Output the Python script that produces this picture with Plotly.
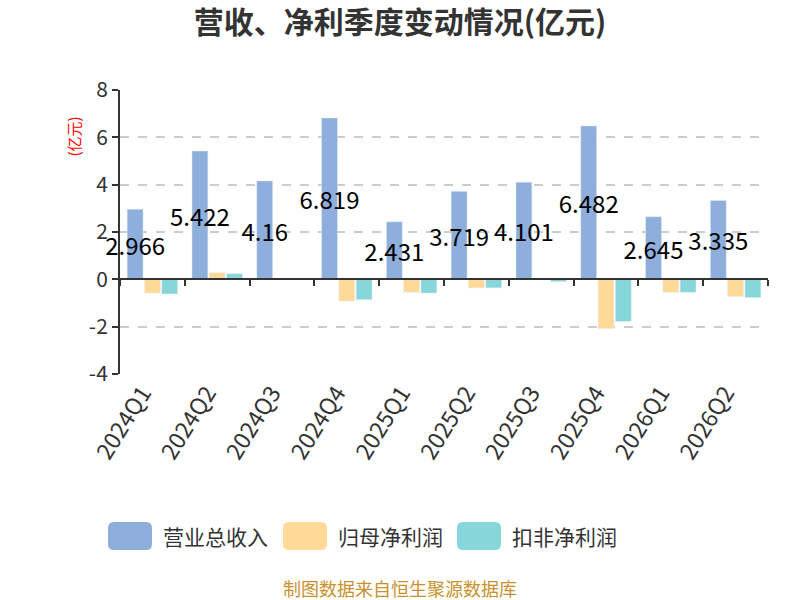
import plotly.graph_objects as go

quarters = ['2024Q1', '2024Q2', '2024Q3', '2024Q4', '2025Q1', '2025Q2', '2025Q3', '2025Q4', '2026Q1', '2026Q2']
revenue = [2.966, 5.422, 4.16, 6.819, 2.431, 3.719, 4.101, 6.482, 2.645, 3.335]
net_profit = [-0.58, 0.28, 0.03, -0.92, -0.55, -0.36, -0.02, -2.08, -0.55, -0.73]
deducted_profit = [-0.62, 0.24, 0.01, -0.86, -0.58, -0.36, -0.10, -1.78, -0.55, -0.77]
series_names = ['营业总收入', '归母净利润', '扣非净利润']
colors = ['#8eaedb', '#fed998', '#87d6da']
y_ticks = [-4, -2, 0, 2, 4, 6, 8]

font = 'Noto Sans CJK SC, Microsoft YaHei, sans-serif'

# plot area in pixels (800x600 page)
L, R, T, B = 120, 768, 90, 374
y_min, y_max = y_ticks[0], y_ticks[-1]

fig = go.Figure()
fig.add_trace(go.Bar(x=quarters, y=revenue, name=series_names[0], marker_color=colors[0],
                     text=[str(v) for v in revenue], textposition='inside', insidetextanchor='middle',
                     constraintext='none', textangle=0, cliponaxis=False,
                     textfont=dict(size=24, color='#000000', family=font)))
fig.add_trace(go.Bar(x=quarters, y=net_profit, name=series_names[1], marker_color=colors[1]))
fig.add_trace(go.Bar(x=quarters, y=deducted_profit, name=series_names[2], marker_color=colors[2]))
# dummy trace so the zero-line axis carries the category ticks
fig.add_trace(go.Scatter(x=quarters, y=[None] * len(quarters), xaxis='x2', showlegend=False, hoverinfo='skip'))

zero_pos = (0 - y_min) / (y_max - y_min)

fig.update_layout(
    width=800, height=600,
    paper_bgcolor='white', plot_bgcolor='white',
    margin=dict(l=L, r=800 - R, t=T, b=600 - B),
    barmode='group', bargap=0.2, bargroupgap=0.08,
    showlegend=False,
    font=dict(family=font, color='#333333'),
    title=dict(text='<b>营收、净利季度变动情况(亿元)</b>', x=0.5, xanchor='center', y=1 - 22 / 600, yanchor='middle',
               font=dict(size=30, color='#333333', family=font)),
    xaxis=dict(type='category', categoryorder='array', categoryarray=quarters, range=[-0.5, len(quarters) - 0.5],
               showline=False, ticks='', tickangle=-58, tickfont=dict(size=23, color='#333333'), showgrid=False,
               ticklabelshift=-10),
    xaxis2=dict(type='category', categoryorder='array', categoryarray=quarters, range=[-0.5, len(quarters) - 0.5],
                overlaying='x', anchor='free', position=zero_pos, showline=True, linecolor='#333333', linewidth=2,
                ticks='outside', tickson='boundaries', ticklen=6, tickwidth=2, tickcolor='#333333',
                showticklabels=False, showgrid=False),
    yaxis=dict(range=[y_min, y_max], tickmode='array', tickvals=y_ticks, ticktext=[str(t) for t in y_ticks],
               showline=True, linecolor='#333333', linewidth=2,
               ticks='outside', ticklen=6, tickwidth=2, tickcolor='#333333',
               tickfont=dict(size=21, color='#333333'),
               showgrid=True, gridcolor='#cccccc', griddash='dash', gridwidth=1.5, zeroline=False),
)

# y axis unit label
fig.add_annotation(text='(亿元)', xref='paper', yref='paper', x=(60 - L) / (R - L), y=(B - 115) / (B - T),
                   textangle=-90, showarrow=False, font=dict(size=15, color='#ff0000', family=font))

# legend drawn by hand: rounded swatches + labels
def px_x(p):
    return (p - L) / (R - L)

def px_y(p):
    return (B - p) / (B - T)

def rounded(x0, y0, x1, y1, r=6):
    pts = [(x0 + r, y0), (x1 - r, y0), (x1, y0 + r), (x1, y1 - r), (x1 - r, y1), (x0 + r, y1), (x0, y1 - r), (x0, y0 + r)]
    path = 'M {} {}'.format(px_x(pts[0][0]), px_y(pts[0][1]))
    path += ' L {} {}'.format(px_x(pts[1][0]), px_y(pts[1][1]))
    path += ' Q {} {} {} {}'.format(px_x(x1), px_y(y0), px_x(pts[2][0]), px_y(pts[2][1]))
    path += ' L {} {}'.format(px_x(pts[3][0]), px_y(pts[3][1]))
    path += ' Q {} {} {} {}'.format(px_x(x1), px_y(y1), px_x(pts[4][0]), px_y(pts[4][1]))
    path += ' L {} {}'.format(px_x(pts[5][0]), px_y(pts[5][1]))
    path += ' Q {} {} {} {}'.format(px_x(x0), px_y(y1), px_x(pts[6][0]), px_y(pts[6][1]))
    path += ' L {} {}'.format(px_x(pts[7][0]), px_y(pts[7][1]))
    path += ' Q {} {} {} {} Z'.format(px_x(x0), px_y(y0), px_x(pts[0][0]), px_y(pts[0][1]))
    return path

legend_x = [108, 283, 457]
for lx, name, col in zip(legend_x, series_names, colors):
    fig.add_shape(type='path', path=rounded(lx, 522, lx + 44, 550), xref='paper', yref='paper',
                  fillcolor=col, line=dict(width=0))
    fig.add_annotation(text=name, xref='paper', yref='paper', x=px_x(lx + 53), y=px_y(536),
                       xanchor='left', yanchor='middle', showarrow=False,
                       font=dict(size=21, color='#333333', family=font))

fig.add_annotation(text='制图数据来自恒生聚源数据库', xref='paper', yref='paper', x=px_x(400), y=px_y(588),
                   xanchor='center', yanchor='middle', showarrow=False,
                   font=dict(size=18, color='#c8912c', family=font))

# page body margin would shift the whole figure by 8px
fig.write_html('out.html', config={'displayModeBar': False},
               post_script="document.body.style.margin='0';")
